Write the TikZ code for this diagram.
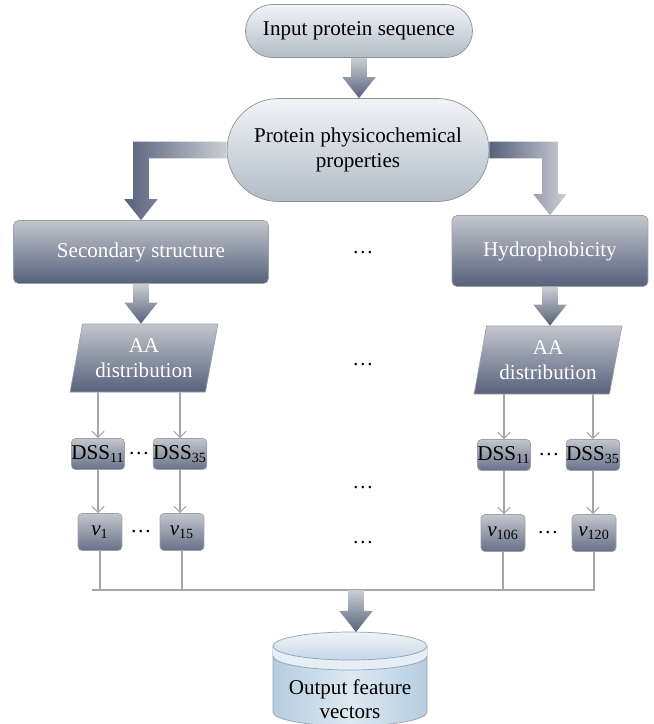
\documentclass[tikz,border=0pt]{standalone}
\usepackage{fontspec}
\setmainfont{Liberation Serif}
\usetikzlibrary{shapes.geometric,shapes.misc,arrows.meta,calc}
\definecolor{boxtop}{HTML}{C2C6CD}
\definecolor{boxbot}{HTML}{56617B}
\definecolor{boxline}{HTML}{9CA1A9}
\definecolor{pilltop}{HTML}{F1F4F7}
\definecolor{pillbot}{HTML}{B2BCC6}
\definecolor{pillline}{HTML}{8E9297}
\definecolor{arrlight}{HTML}{CACED4}
\definecolor{arrdark}{HTML}{57617A}
\definecolor{linkgray}{HTML}{A6A6A6}
\definecolor{cylside}{HTML}{B6CDE0}
\definecolor{cylmid}{HTML}{DCE8F1}
\definecolor{cylring}{HTML}{E7EFF6}
\definecolor{cylline}{HTML}{8FA3B4}
\newcommand{\fatarrow}[3]{\shade[#3] let \p1=(#1), \p2=(#2) in
  (\x1-4.5pt,\y1) -- (\x1-4.5pt,\y2+12pt) -- (\x1-9.5pt,\y2+12pt) -- (\x1,\y2)
  -- (\x1+9.5pt,\y2+12pt) -- (\x1+4.5pt,\y2+12pt) -- (\x1+4.5pt,\y1) -- cycle;}

\begin{document}
\begin{tikzpicture}[x=0.02cm,y=-0.02cm,font=\fontsize{12}{14.5}\selectfont,
    pill/.style={rounded rectangle,draw=pillline,top color=pilltop,bottom color=pillbot,align=center,inner sep=0pt},
    slab/.style={rounded corners=0.1cm,draw=boxline,top color=boxtop,bottom color=boxbot,text=white,inner sep=0pt},
    aabox/.style={trapezium,trapezium left angle=76,trapezium right angle=104,trapezium stretches=true,
      draw=boxline,top color=boxtop,bottom color=boxbot,text=white,align=center,inner sep=0pt,
      minimum width=2.96cm,minimum height=1.36cm},
    cell/.style={rounded corners=0.08cm,draw=boxline,top color=boxtop,bottom color=boxbot!90!white,inner sep=0pt},
    link/.style={draw=linkgray,line width=0.6pt},
    tip/.style={-{Straight Barb[length=3.5pt,width=7pt]}}]
    \clip (0,0) rectangle (653,724);
    % main column
    \node[pill,minimum width=4.54cm,minimum height=1.06cm] (inseq) at (359,31) {Input protein sequence};
    \node[pill,minimum width=5.24cm,minimum height=2.06cm] (phys) at (358,150) {Protein physicochemical\\properties};
    \node[slab,minimum width=5.1cm,minimum height=1.26cm] (sec) at (141,252) {Secondary structure};
    \node[slab,minimum width=3.92cm,minimum height=1.42cm] (hyd) at (550,251) {Hydrophobicity};
    \node[aabox] (aaL) at (144,358) {AA\\distribution};
    \node[aabox] (aaR) at (548,360) {AA\\distribution};
    \foreach \n/\x/\y/\t in {dL1/98/454/11, dL2/180/454/35, dR1/504/455/11, dR2/593/455/35}
        \node[cell,minimum width=1.06cm,minimum height=0.62cm] (\n) at (\x,\y) {DSS\textsubscript{\t}};
    \foreach \n/\x/\y/\t in {vL1/100/532/1, vL2/182/532/15, vR1/503/533/106, vR2/594/533/120}
        \node[cell,minimum width=0.88cm,minimum height=0.74cm] (\n) at (\x,\y) {\textit{v}\textsubscript{\t}};
    \foreach \x/\y [count=\k] in {139/454, 549/455, 141/532, 548/533, 363/253, 363/365, 363/488, 363/543}
        \node (dots\k) at (\x,\y) {\dots};
    % fat arrows
    \fatarrow{inseq.south}{phys.north}{top color=arrlight,bottom color=arrdark}
    \fatarrow{sec.south}{aaL.north}{top color=arrlight,bottom color=arrdark}
    \fatarrow{hyd.south}{aaR.north}{top color=arrlight,bottom color=arrdark}
    \shade[left color=arrdark,right color=arrlight] let \p1=(phys.west), \p2=(sec.north) in
        (\x1,\y1+4.7pt) -- (\x2-4.5pt,\y1+4.7pt) -- (\x2-4.5pt,\y2+12pt) -- (\x2-9.5pt,\y2+12pt) -- (\x2,\y2)
        -- (\x2+9.5pt,\y2+12pt) -- (\x2+4.5pt,\y2+12pt) -- (\x2+4.5pt,\y1-4.7pt) -- (\x1,\y1-4.7pt) -- cycle;
    \shade[left color=arrdark,right color=arrlight] let \p1=(phys.east), \p2=(hyd.north) in
        (\x1,\y1+4.7pt) -- (\x2+4.5pt,\y1+4.7pt) -- (\x2+4.5pt,\y2+12pt) -- (\x2+9.5pt,\y2+12pt) -- (\x2,\y2)
        -- (\x2-9.5pt,\y2+12pt) -- (\x2-4.5pt,\y2+12pt) -- (\x2-4.5pt,\y1-4.7pt) -- (\x1,\y1-4.7pt) -- cycle;
    % thin connectors
    \foreach \a/\b in {aaL/dL1, aaL/dL2, aaR/dR1, aaR/dR2}
        \draw[link,tip] (\b.north |- \a.south) -- (\b.north);
    \foreach \a/\b in {dL1/vL1, dL2/vL2, dR1/vR1, dR2/vR2}
        \draw[link,tip] (\a.south) -- (\a.south |- \b.north);
    \coordinate (busL) at (92,590);
    \coordinate (busR) at (595,590);
    \coordinate (busmid) at (356,590);
    \draw[link] (busL) -- (busR);
    \foreach \a in {vL1, vL2, vR1, vR2}
        \draw[link] (\a.south) -- (\a.south |- busL);
    % output cylinder
    \coordinate (cyltop) at (350,632);
    \shade[left color=cylside,right color=cylside,middle color=cylmid,draw=cylline]
        (273,646) -- (273,712) arc[start angle=180,end angle=360,x radius=1.54cm,y radius=0.28cm] -- (427,646) -- cycle;
    \fill[cylring] (273,646) arc[start angle=180,end angle=360,x radius=1.54cm,y radius=0.28cm]
        -- (427,656) arc[start angle=0,end angle=-180,x radius=1.54cm,y radius=0.28cm] -- cycle;
    \draw[cylline] (273,656) arc[start angle=180,end angle=360,x radius=1.54cm,y radius=0.28cm];
    \shade[top color=pilltop,bottom color=cylside!80!white,draw=cylline] (350,646) ellipse[x radius=1.54cm,y radius=0.28cm];
    \node[align=center,font=\fontsize{12}{13.5}\selectfont] (out) at (350,699) {Output feature\\vectors};
    \fatarrow{busmid}{cyltop}{top color=arrlight,bottom color=arrdark}
\end{tikzpicture}
\end{document}
